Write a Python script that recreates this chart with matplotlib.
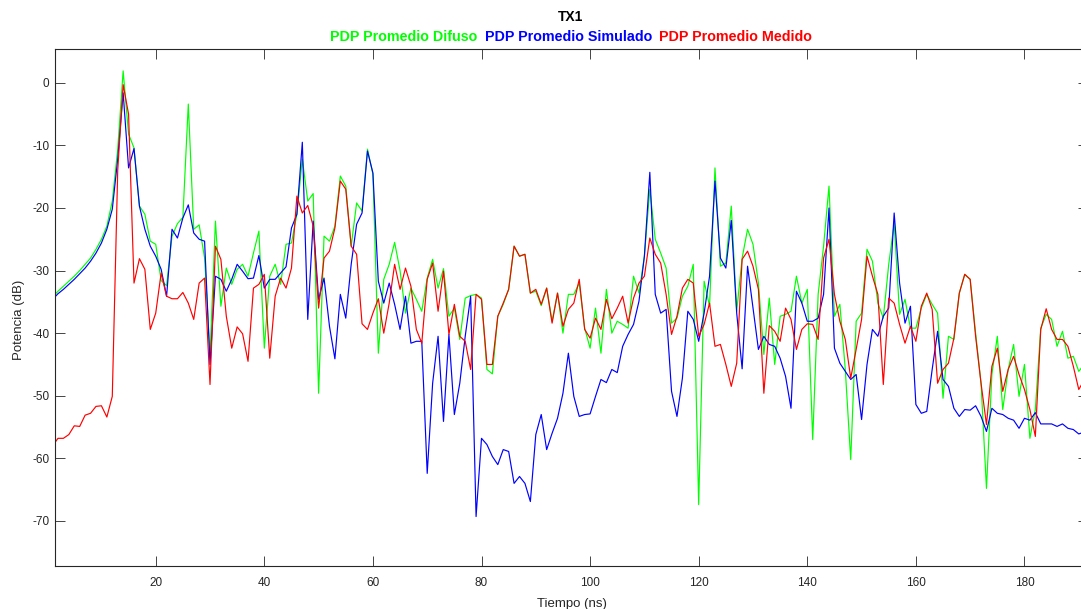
import numpy as np
import matplotlib as mpl
import matplotlib.pyplot as plt

mpl.rcParams["font.family"] = ["Liberation Sans", "DejaVu Sans"]
mpl.rcParams["axes.unicode_minus"] = False

# time axis in ns (1 ns bins)
tiempo = np.arange(1, 192)

pdp_difuso = [
    -34.2, -33.3, -32.5, -31.7, -30.9, -30.0, -29.0, -28.0, -26.6, -25.0,
    -22.9, -18.9, -10.6, 1.9, -8.2, -10.4, -19.7, -21.0, -25.3, -25.8,
    -31.6, -32.4, -24.5, -22.5, -21.5, -3.4, -23.4, -22.7, -28.0, -43.4,
    -22.1, -35.7, -29.6, -32.2, -29.8, -29.0, -30.9, -27.2, -23.7, -42.4,
    -30.9, -29.0, -32.2, -25.8, -25.6, -21.0, -12.2, -18.9, -17.7, -49.6,
    -24.5, -25.3, -22.9, -14.9, -16.5, -26.1, -19.2, -20.5, -10.6, -14.6,
    -43.2, -31.4, -29.0, -25.5, -30.0, -36.8, -32.8, -34.6, -36.5, -31.2,
    -28.2, -32.8, -29.7, -37.3, -36.0, -41.0, -34.4, -34.0, -33.8, -34.4,
    -45.8, -46.5, -37.3, -35.4, -33.0, -26.1, -27.7, -27.4, -33.6, -33.3,
    -35.6, -32.8, -38.1, -33.6, -40.0, -33.8, -33.8, -32.0, -39.2, -42.4,
    -36.0, -43.2, -33.0, -40.0, -38.1, -38.6, -39.2, -30.9, -33.6, -27.7,
    -17.0, -25.0, -27.2, -29.6, -38.4, -37.6, -34.1, -32.5, -29.0, -67.4,
    -31.7, -35.7, -13.6, -29.3, -28.8, -19.7, -36.5, -28.0, -23.4, -25.8,
    -32.0, -43.4, -34.4, -45.0, -37.3, -37.0, -36.5, -30.9, -35.2, -33.0,
    -57.0, -33.8, -26.1, -16.5, -37.3, -35.4, -45.8, -60.2, -38.1, -36.8,
    -26.6, -28.5, -35.2, -37.6, -29.0, -22.4, -37.0, -34.6, -39.2, -39.2,
    -36.0, -33.8, -35.4, -36.8, -50.4, -40.5, -41.0, -33.6, -30.6, -31.4,
    -40.0, -48.0, -64.8, -46.6, -40.5, -52.2, -45.8, -41.8, -50.1, -45.0,
    -56.8, -52.2, -39.2, -37.0, -37.8, -42.1, -39.7, -44.0, -43.7, -46.1,
    -45.0,
]

pdp_simulado = [
    -34.6, -33.7, -33.0, -32.2, -31.4, -30.5, -29.6, -28.5, -27.2, -25.6,
    -23.4, -20.2, -12.2, -1.6, -13.6, -10.5, -19.7, -23.4, -26.1, -27.7,
    -29.8, -34.1, -23.4, -24.8, -21.6, -19.5, -24.0, -25.0, -25.3, -45.0,
    -30.9, -31.4, -33.3, -31.4, -29.0, -30.1, -31.3, -31.2, -27.6, -32.8,
    -31.4, -31.4, -30.4, -29.4, -23.2, -21.0, -9.5, -37.8, -22.1, -34.6,
    -31.2, -38.9, -44.1, -33.8, -37.6, -29.0, -22.6, -20.8, -10.9, -14.4,
    -31.7, -35.2, -32.0, -35.4, -39.4, -34.1, -41.6, -41.3, -41.3, -62.4,
    -48.0, -40.5, -54.1, -40.2, -53.0, -48.0, -40.5, -34.1, -69.3, -56.8,
    -57.8, -59.7, -61.0, -58.6, -58.9, -64.0, -62.9, -64.0, -66.9, -56.2,
    -53.0, -58.6, -56.0, -53.6, -49.6, -43.2, -50.1, -53.3, -53.0, -52.9,
    -50.1, -47.4, -47.9, -45.8, -46.3, -42.1, -40.2, -38.6, -34.9, -27.7,
    -14.3, -33.8, -36.8, -36.2, -49.3, -53.3, -47.2, -36.5, -37.8, -41.3,
    -36.8, -30.9, -15.7, -28.0, -29.6, -22.0, -36.8, -45.7, -29.3, -36.0,
    -42.6, -40.5, -41.8, -42.1, -44.0, -46.9, -52.0, -33.3, -35.2, -38.1,
    -38.1, -37.6, -33.8, -20.0, -42.4, -44.8, -46.1, -47.4, -46.6, -53.8,
    -45.0, -39.4, -40.5, -37.3, -36.0, -20.8, -32.0, -38.4, -35.7, -51.4,
    -52.8, -52.5, -45.8, -39.7, -47.4, -48.5, -52.0, -53.3, -52.2, -52.3,
    -51.6, -53.3, -55.7, -52.0, -52.8, -53.0, -53.6, -53.9, -55.2, -53.6,
    -53.9, -52.7, -54.5, -54.5, -54.5, -54.9, -54.5, -55.2, -55.4, -56.1,
    -55.8,
]

pdp_medido = [
    -58.0, -56.8, -56.8, -56.2, -54.8, -54.9, -53.1, -52.8, -51.7, -51.6,
    -53.4, -50.1, -14.0, -0.3, -5.0, -32.0, -28.1, -29.8, -39.4, -36.8,
    -30.4, -34.1, -34.5, -34.5, -33.5, -35.2, -37.8, -32.0, -31.2, -48.2,
    -26.1, -28.2, -37.3, -42.4, -39.0, -40.1, -44.5, -32.8, -32.2, -30.6,
    -44.0, -34.1, -31.2, -32.8, -29.6, -18.1, -20.8, -19.6, -22.9, -36.0,
    -28.0, -26.9, -23.2, -15.7, -17.0, -26.1, -27.4, -38.5, -39.4, -36.8,
    -34.5, -40.0, -35.2, -29.0, -33.0, -29.6, -32.5, -39.4, -41.6, -31.4,
    -28.8, -36.5, -30.1, -40.2, -35.4, -40.5, -41.3, -45.8, -33.8, -34.6,
    -45.0, -45.0, -37.3, -35.2, -33.0, -26.1, -27.7, -27.4, -33.6, -33.0,
    -35.4, -32.8, -38.4, -33.6, -38.9, -36.2, -35.2, -31.4, -39.4, -40.8,
    -37.6, -39.4, -34.6, -37.7, -36.0, -34.1, -38.4, -34.4, -32.0, -30.9,
    -24.8, -27.4, -28.8, -33.8, -40.2, -37.3, -32.8, -31.4, -32.0, -40.5,
    -38.6, -35.2, -42.1, -41.8, -45.0, -48.5, -44.8, -28.2, -26.9, -29.3,
    -33.0, -49.6, -38.8, -39.7, -41.3, -36.0, -37.8, -42.6, -39.4, -38.5,
    -38.6, -41.0, -28.0, -25.0, -33.8, -38.1, -41.0, -47.2, -42.6, -37.8,
    -27.7, -30.9, -33.8, -48.2, -34.4, -35.2, -38.6, -41.6, -38.9, -41.3,
    -35.7, -33.6, -36.2, -48.0, -45.8, -44.8, -40.8, -33.6, -30.6, -31.4,
    -40.5, -48.0, -54.6, -45.3, -42.4, -49.3, -45.8, -43.7, -46.6, -49.0,
    -52.2, -56.5, -39.4, -36.1, -39.4, -41.0, -41.0, -42.1, -45.3, -49.0,
    -47.5,
]

series = [
    ("PDP Promedio Difuso", pdp_difuso, (0, 1, 0)),
    ("PDP Promedio Simulado", pdp_simulado, (0, 0, 1)),
    ("PDP Promedio Medido", pdp_medido, (1, 0, 0)),
]

axis_gray = "#262626"

fig = plt.figure(figsize=(10.81, 6.09), dpi=100)
ax = fig.add_axes([55 / 1081, 43 / 609, 1033 / 1081, 517 / 609])

for name, vals, col in series:
    ax.plot(tiempo, vals, color=col, lw=0.85, label=name)

ax.set_xlim(1.45, 191.7)
ax.set_ylim(-77.2, 5.4)
ax.set_xticks(np.arange(20, 181, 20))
ax.set_yticks(np.arange(-70, 1, 10))

ax.tick_params(direction="in", length=7, width=0.6, colors=axis_gray,
               labelsize=8.5, top=True, right=True)
ax.tick_params(axis="x", pad=8)
ax.tick_params(axis="y", pad=4)
for sp in ax.spines.values():
    sp.set_color(axis_gray)
    sp.set_linewidth(0.8)

ax.set_xlabel("Tiempo (ns)", fontsize=9.5, color=axis_gray)
ax.set_ylabel("Potencia (dB)", fontsize=9.5, color=axis_gray)
ax.xaxis.set_label_coords(0.5, -0.062)
ax.yaxis.set_label_coords(-0.029, 0.476)

# two-line title: name, then the series names in their own colours
fig.text(571 / 1081, 1 - 17 / 609, "TX1", ha="center", va="center",
         fontsize=10, fontweight="bold", color="black")

renderer = fig.canvas.get_renderer()
pieces = []
for name, vals, col in series:
    pieces.append(fig.text(0, 1 - 37 / 609, name, ha="left", va="center",
                           fontsize=10.3, fontweight="bold", color=col))
widths = [p.get_window_extent(renderer).width for p in pieces]
gap = 7
x0 = 571 - (sum(widths) + gap * (len(widths) - 1)) / 2
for p, w in zip(pieces, widths):
    p.set_x(x0 / 1081)
    x0 += w + gap

fig.savefig("out.png", dpi=100)
